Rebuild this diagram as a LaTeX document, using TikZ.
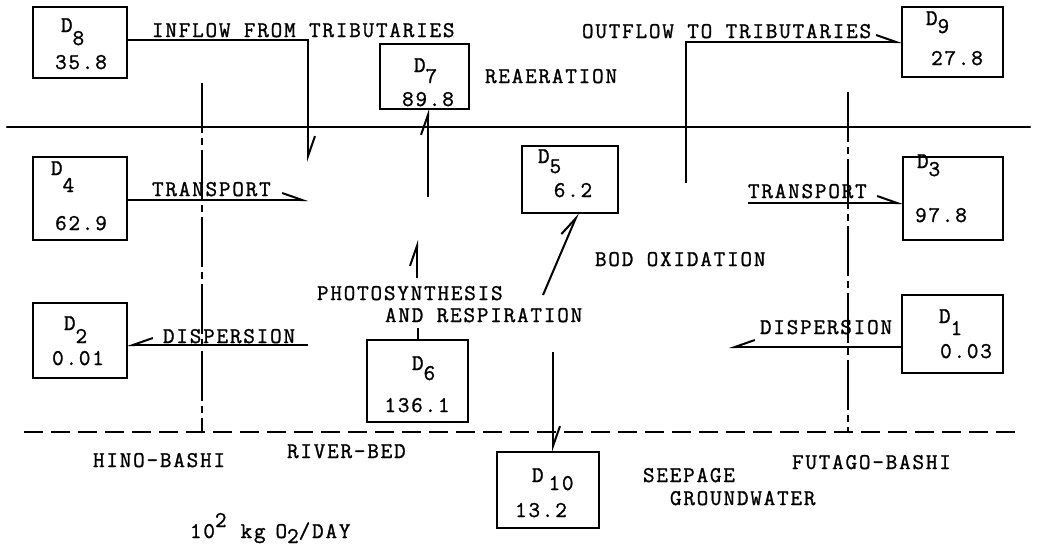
\documentclass[tikz,border=0pt]{standalone}
\usepackage{fontspec}
\setmonofont[LetterSpace=8, FakeBold=1.2]{Latin Modern Mono}
\usetikzlibrary{arrows.meta}
\newcommand\lowd[2]{\raisebox{-#1pt}{#2}}
\begin{document}
\begin{tikzpicture}[x=1pt,y=-1pt,
  txt/.style={font=\ttfamily\fontsize{22.5}{25}\selectfont, inner sep=0pt, outer sep=0pt},
  box/.style={draw, line width=2.2pt, inner sep=0pt, outer sep=0pt},
  flow/.style={line width=2pt},
  ltip/.style={-{Straight Barb[harpoon,length=20pt,width=14pt]}},
  rtip/.style={-{Straight Barb[harpoon,swap,length=20pt,width=14pt]}},
  bank/.style={line width=1.3pt, dash pattern=on 50pt off 5pt on 7pt off 5pt},
  bed/.style={line width=2.2pt, dash pattern=on 19pt off 8pt},
  surface/.style={line width=2.2pt, line cap=round}]
\useasboundingbox (0,0) rectangle (1037,549);

% water surface and river bed
\coordinate (surfL) at (7,127);
\coordinate (surfR) at (1030,127);
\draw[surface] (surfL) -- (surfR);
\coordinate (bedL) at (24,432);
\coordinate (bedR) at (1020,432);
\draw[bed] (bedL) -- (bedR);

% cross-sections
\coordinate (hinoT) at (202,83);
\coordinate (hinoB) at (202,432);
\draw[bank] (hinoT) -- (hinoB);
\coordinate (futT) at (848,92);
\coordinate (futB) at (848,432);
\draw[bank] (futT) -- (futB);

% boxes
\node[box, minimum width=94pt,  minimum height=71pt] (D8)  at (80,42.5)    {};
\node[box, minimum width=89pt,  minimum height=65pt] (D7)  at (424.5,76.5) {};
\node[box, minimum width=101pt, minimum height=70pt] (D9)  at (952.5,42)   {};
\node[box, minimum width=94pt,  minimum height=83pt] (D4)  at (80,198.5)   {};
\node[box, minimum width=96pt,  minimum height=67pt] (D5)  at (570,179.5)  {};
\node[box, minimum width=100pt, minimum height=83pt] (D3)  at (953,198.5)  {};
\node[box, minimum width=94pt,  minimum height=75pt] (D2)  at (80,340.5)   {};
\node[box, minimum width=101pt, minimum height=78pt] (D1)  at (952.5,334)  {};
\node[box, minimum width=101pt, minimum height=82pt] (D6)  at (417.5,381)  {};
\node[box, minimum width=102pt, minimum height=76pt] (D10) at (548,490)    {};

% box texts
\node[txt, anchor=base west] (D8n) at (61,32)  {D\lowd{13}{8}};
\node[txt, anchor=base] (D8v) at (81,69) {35.8};
\node[txt, anchor=base west] (D7n) at (414,72) {D\lowd{11}{7}};
\node[txt, anchor=base] (D7v) at (428,106) {89.8};
\node[txt, anchor=base west] (D9n) at (926,25) {D\lowd{8}{9}};
\node[txt, anchor=base] (D9v) at (957,65) {27.8};
\node[txt, anchor=base west] (D4n) at (51,175) {D\lowd{17}{4}};
\node[txt, anchor=base] (D4v) at (81,230) {62.9};
\node[txt, anchor=base west] (D5n) at (538,163) {D\lowd{10}{5}};
\node[txt, anchor=base] (D5v) at (573,197) {6.2};
\node[txt, anchor=base west] (D3n) at (917,168) {D\lowd{8}{3}};
\node[txt, anchor=base] (D3v) at (941,222) {97.8};
\node[txt, anchor=base west] (D2n) at (64,330) {D\lowd{13}{2}};
\node[txt, anchor=base] (D2v) at (78,365) {0.01};
\node[txt, anchor=base west] (D1n) at (939,323) {D\lowd{12}{1}};
\node[txt, anchor=base] (D1v) at (966,358) {0.03};
\node[txt, anchor=base west] (D6n) at (412,370) {D\lowd{10}{6}};
\node[txt, anchor=base] (D6v) at (417,412) {136.1};
\node[txt, anchor=base west] (D10n) at (532,482) {D\hspace{5pt}\lowd{8}{10}};
\node[txt, anchor=base] (D10v) at (541,517) {13.2};

% flow labels
\node[txt, anchor=base west] (inflow) at (152,37) {INFLOW FROM TRIBUTARIES};
\node[txt, anchor=base west] (outflow) at (582,38) {OUTFLOW TO TRIBUTARIES};
\node[txt, anchor=base west] (reaer) at (485,83) {REAERATION};
\node[txt, anchor=base west] (transL) at (152,196) {TRANSPORT};
\node[txt, anchor=base west] (transR) at (748,198) {TRANSPORT};
\node[txt, anchor=base west] (dispL) at (163,343) {DISPERSION};
\node[txt, anchor=base west] (dispR) at (760,334) {DISPERSION};
\node[txt, anchor=base west] (photo) at (317,300) {PHOTOSYNTHESIS};
\node[txt, anchor=base west] (resp) at (385,322) {AND RESPIRATION};
\node[txt, anchor=base west] (bodox) at (595,266) {BOD OXIDATION};
\node[txt, anchor=base west] (hino) at (93,467) {HINO-BASHI};
\node[txt, anchor=base west] (riverbed) at (287,458) {RIVER-BED};
\node[txt, anchor=base west] (seep) at (643,482) {SEEPAGE};
\node[txt, anchor=base west] (ground) at (670,505) {GROUNDWATER};
\node[txt, anchor=base west] (futago) at (792,469) {FUTAGO-BASHI};
\node[txt, anchor=base west] (units) at (190,538) {10\raisebox{11pt}{2}\hspace{14pt}kg\hspace{10pt}O\raisebox{-5pt}{2}/DAY};

% connectors
\coordinate (inEnd) at (308,162);
\draw[flow, ltip] ([yshift=2.5pt]D8.east) -| (inEnd);
\coordinate (outStart) at (686,183);
\draw[flow, ltip] (outStart) |- (D9.west);
\coordinate (tL) at (308,200);
\draw[flow, ltip] (D4.east |- tL) -- (tL);
\coordinate (tR) at (748,203);
\draw[flow, ltip] (tR) -- (tR -| D3.west);
\coordinate (dL) at (308,345);
\draw[flow, rtip] (dL) -- (dL -| D2.east);
\coordinate (dR) at (729,347);
\draw[flow, rtip] (D1.west |- dR) -- (dR);
\coordinate (p7) at (428,197);
\draw[flow, ltip] (p7) -- (p7 |- D7.south);
\coordinate (p6a) at (417,328);
\draw[flow] (D6.north) -- (D6.north |- p6a);
\coordinate (p6b) at (417,278);
\coordinate (p6c) at (417,240);
\draw[flow, ltip] (p6b) -- (p6c);
\coordinate (bod) at (543,295);
\draw[flow, ltip] (bod) -- ([xshift=8pt]D5.south);
\coordinate (s10) at (553,352);
\draw[flow, ltip] (s10) -- (s10 |- D10.north);
\end{tikzpicture}
\end{document}
